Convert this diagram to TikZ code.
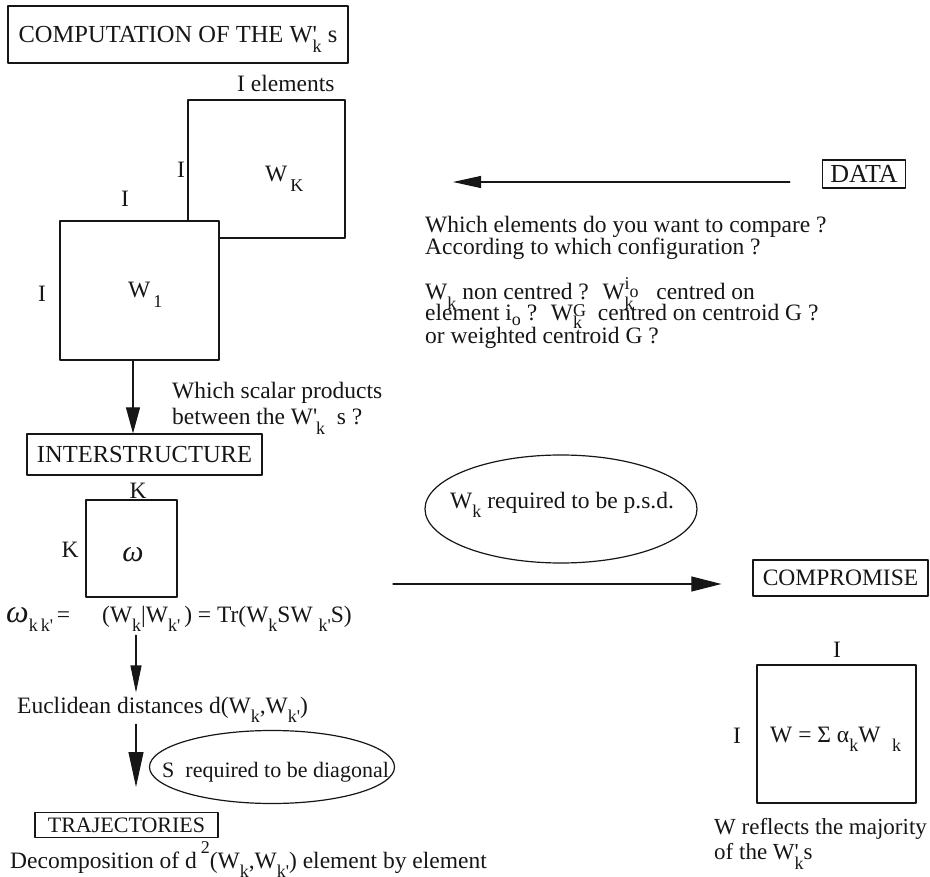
\documentclass[tikz,border=0pt]{standalone}
\usepackage{fontspec}
\setmainfont{Liberation Serif}
\usetikzlibrary{arrows.meta,shapes.geometric,calc}
\definecolor{ink}{RGB}{22,22,22}
\newcommand\rs[2]{\raisebox{#1}[0pt][0pt]{\fontsize{18}{18}\selectfont #2}}
\newcommand\lo[1]{\rs{-.42em}{#1}}
\newcommand\hi[1]{\rs{.62em}{#1}}
\newcommand\pr{\textquotesingle}
\newcommand\fs[2][21]{\fontsize{#2}{#1}\selectfont}

\begin{document}
\begin{tikzpicture}[x=1pt,y=-1pt,line cap=round,line join=round,
  every node/.style={font=\fs{23.5},text=ink,inner sep=0pt},
  tag/.style={draw=ink,line width=1.2pt},
  matrixbox/.style={draw=ink,fill=white,line width=1.4pt},
  note/.style={draw=ink,ellipse,line width=1.2pt},
  flow/.style={draw=ink,line width=1.1pt}]
\useasboundingbox (0,0) rectangle (930,877);
\node[tag,font=\fs{24.5},minimum width=340pt,minimum height=57pt] (title) at (178,34.5) {COMPUTATION OF THE W\rlap{\pr}\lo{k} s};
\node[anchor=base west] (elements) at (237,92) {I elements};
\node[matrixbox,minimum width=157pt,minimum height=138pt] (wk) at (266.5,169) {};
\node[matrixbox,minimum width=159pt,minimum height=139pt] (w1) at (139.5,290.5) {};
\node[anchor=base west] (wklabel) at (265,182) {W\lo{\,K}};
\node[anchor=base] (wkside) at (181,178) {I};
\node[anchor=base] (w1top) at (125,207) {I};
\node[anchor=base] (w1side) at (42,302) {I};
\node[anchor=base west] (w1label) at (128,298) {W\lo{\,1}};
\node[tag,font=\fs{24.5},minimum width=235pt,minimum height=41pt] (inter) at (144.5,454.5) {INTERSTRUCTURE};
\draw[flow,-{Triangle[length=26pt,width=14pt]}] ([xshift=-6.5pt]w1.south) -- ([xshift=-6.5pt]w1.south |- inter.north);
\node[anchor=north west,align=left] (scalar) at (172,381.5) {Which scalar products\\[4pt]between the W\rlap{\pr}\lo{\,k} \ s ?};
\node[anchor=base] (ktop) at (138,498) {K};
\node[matrixbox,minimum width=91pt,minimum height=97pt] (omega) at (131.5,548.5) {};
\node[anchor=base] (kside) at (70,558) {K};
\node (omegalabel) at (133,555) {\fontsize{30}{30}\selectfont\textit{ω}};
\node[anchor=base west] (formula) at (6,622) {{\fontsize{32}{32}\selectfont\textit{ω}}\lo{k\,k\pr}\,=\hspace{32pt}(W\lo{k}|W\lo{k\pr}\,) = Tr(W\lo{k}SW \lo{k\pr}S)};
\node[anchor=base west] (eucl) at (17,713) {Euclidean distances d(W\lo{k},W\lo{k\pr})};
\draw[flow,shorten <=8pt,-{Triangle[length=27pt,width=11pt]}] ([xshift=4.5pt]formula.south -| omega) -- ([xshift=4.5pt,yshift=4pt]eucl.north -| omega);
\coordinate (trajtip) at (136,787);
\draw[flow,shorten <=6pt,-{Triangle[length=35pt,width=15pt]}] (eucl.south -| trajtip) -- (trajtip);
\node[note,minimum width=245pt,minimum height=73pt] (diag) at (272,767) {};
\node[anchor=base west,font=\fs{22}] (diagtext) at (162,777) {S\ \ required to be diagonal};
\node[tag,font=\fs{22},minimum width=183pt,minimum height=25pt] (traj) at (126.5,825) {TRAJECTORIES};
\node[anchor=base west] (decomp) at (10,868) {Decomposition of d\,\hi{2}(W\lo{k},W\lo{k\pr}) element by element};
\node[tag,font=\fs{26},minimum width=83pt,minimum height=28pt] (data) at (864,174) {DATA};
\coordinate (datatip) at (453,182);
\draw[flow,shorten <=32pt,-{Triangle[length=28pt,width=12pt]}] (data.west |- datatip) -- (datatip);
\node[anchor=north west,align=left,font={\fs[20.5]{23.5}}] (question) at (425,215.5) {Which elements do you want to compare ?\\According to which configuration ?\\[23pt]W\lo{k} non centred ? \ W\rlap{\lo{k}}\rs{.45em}{i}\rs{.1em}{o} \ \ centred on\\element i\rs{-.2em}{o} ? \ W\rlap{\rs{-.36em}{k}}\rs{.15em}{G} \ centred on centroid G ?\\[3pt]or weighted centroid G ?};
\node[note,minimum width=272pt,minimum height=108pt] (psd) at (561,509) {};
\node[anchor=base west] (psdtext) at (450,508) {W\lo{k} required to be p.s.d.};
\node[tag,font=\fs{23.5},minimum width=175pt,minimum height=36pt] (comp) at (840.5,578) {COMPROMISE};
\coordinate (psdfoot) at (393,584);
\draw[flow,shorten >=31pt,-{Triangle[length=30pt,width=15pt]}] (psdfoot) -- (psdfoot -| comp.west);
\node[anchor=base] (wtop) at (837,657) {I};
\node[matrixbox,minimum width=159pt,minimum height=138pt] (wbar) at (836.5,734) {};
\node[anchor=base] (wside) at (737,743) {I};
\node[anchor=base west] (wlabel) at (770,742) {W = Σ α\lo{k}W \ \lo{k}};
\node[anchor=north west,align=left,font={\fs[25]{23}}] (majority) at (714,818) {W reflects the majority\\of the W\rlap{\pr}\lo{k}s};
\end{tikzpicture}
\end{document}
